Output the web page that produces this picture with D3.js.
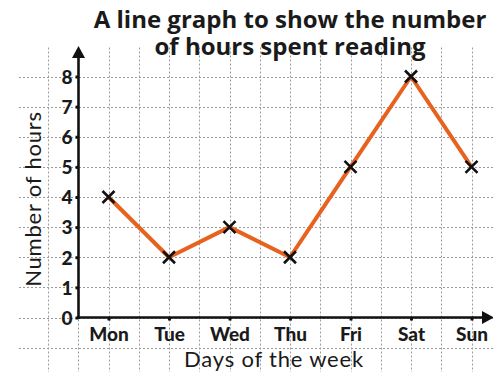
<!DOCTYPE html>
<html>
<head>
<meta charset="utf-8">
<script src="https://cdn.jsdelivr.net/npm/d3@7"></script>
<style>
  html, body { margin: 0; padding: 0; background: #fff; }
  svg { display: block; }
</style>
</head>
<body>
<svg id="chart" width="493" height="372"></svg>
<script>
// Hours spent reading on each day of the week
const days = ["Mon", "Tue", "Wed", "Thu", "Fri", "Sat", "Sun"];
const hours = [4, 2, 3, 2, 5, 8, 5];
const yTicks = [0, 1, 2, 3, 4, 5, 6, 7, 8];
const titleLines = ["A line graph to show the number", "of hours spent reading"];
const xTitle = "Days of the week";
const yTitle = "Number of hours";

const W = 493, H = 372;
const titleFont = "'Open Sans', 'DejaVu Sans', sans-serif";
const axisFont = "Lato, 'Open Sans', sans-serif";
const svg = d3.select("#chart").style("font-family", axisFont);

const x = d3.scalePoint().domain(days).range([108.5, 471.5]);
const y = d3.scaleLinear().domain([0, 8]).range([317.5, 76.5]);
const step = x.step();
const originX = 78.5, originY = y(0);

// Dotted square grid: every half day across, every hour up
const grid = svg.append("g")
  .attr("stroke", "#9a9a9a")
  .attr("stroke-width", 1)
  .attr("stroke-dasharray", "2,2");

const half = step / 2;
const gridXs = d3.range(-2, 16).map(i => x(days[0]) + i * half).filter(v => v > 20 && v < W);
grid.selectAll("line.v").data(gridXs).join("line")
  .attr("class", "v")
  .attr("x1", d => Math.round(d) + 0.5).attr("x2", d => Math.round(d) + 0.5)
  .attr("y1", y(8) - 29).attr("y2", H);

const gridYs = d3.range(-1, 9);
grid.selectAll("line.h").data(gridYs).join("line")
  .attr("class", "h")
  .attr("y1", d => Math.round(y(d)) + 0.5).attr("y2", d => Math.round(y(d)) + 0.5)
  .attr("x1", 19).attr("x2", W);

// Axes with short outer ticks
const yAxis = d3.axisLeft(y).tickValues(yTicks).tickSize(3).tickPadding(3).tickSizeOuter(0);
const xAxis = d3.axisBottom(x).tickSize(3).tickPadding(7).tickSizeOuter(0);

const gy = svg.append("g").attr("transform", `translate(${originX},0)`).call(yAxis);
const gx = svg.append("g").attr("transform", `translate(0,${originY})`).call(xAxis);

[gy, gx].forEach(g => {
  g.select(".domain").remove();
  g.selectAll(".tick line").attr("stroke", "#111").attr("stroke-width", 3);
  g.selectAll(".tick text")
    .attr("fill", "#1a1a1a")
    .style("font-family", axisFont)
    .style("font-weight", "900")
    .style("font-size", "19px");
});
gy.selectAll(".tick text").attr("dy", "0.36em");

// Axis lines with arrowheads
const axisG = svg.append("g").attr("fill", "#111").attr("stroke", "#111");
axisG.append("line")
  .attr("x1", originX).attr("x2", originX)
  .attr("y1", originY + 1.5).attr("y2", 56)
  .attr("stroke-width", 2.6);
axisG.append("path")
  .attr("stroke", "none")
  .attr("d", `M${originX},46 L${originX - 6.5},58 L${originX + 6.5},58 Z`);
axisG.append("line")
  .attr("x1", originX - 1.3).attr("x2", 484)
  .attr("y1", originY).attr("y2", originY)
  .attr("stroke-width", 2.6);
axisG.append("path")
  .attr("stroke", "none")
  .attr("d", `M${W + 1},${originY} L${482},${originY - 6.5} L${482},${originY + 6.5} Z`);

// Orange line joining the daily values
const line = d3.line().x((d, i) => x(days[i])).y(d => y(d));
svg.append("path")
  .datum(hours)
  .attr("fill", "none")
  .attr("stroke", "#e8621f")
  .attr("stroke-width", 4)
  .attr("stroke-linejoin", "round")
  .attr("d", line);

// Cross markers
const s = 6;
svg.append("g").selectAll("path.mark").data(hours).join("path")
  .attr("class", "mark")
  .attr("stroke", "#111")
  .attr("stroke-width", 2.6)
  .attr("fill", "none")
  .attr("d", (d, i) => {
    const cx = x(days[i]), cy = y(d);
    return `M${cx - s},${cy - s}L${cx + s},${cy + s}M${cx - s},${cy + s}L${cx + s},${cy - s}`;
  });

// Two-line title in a single text block
const title = svg.append("text")
  .attr("text-anchor", "middle")
  .attr("fill", "#1a1a1a")
  .style("font-family", titleFont)
  .style("font-size", "24px")
  .style("font-weight", "700");
title.selectAll("tspan").data(titleLines).join("tspan")
  .attr("x", 290)
  .attr("y", (d, i) => 28 + i * 27)
  .text(d => d);

// Axis titles
svg.append("text")
  .attr("x", 274).attr("y", 367)
  .attr("text-anchor", "middle")
  .attr("fill", "#1a1a1a")
  .style("font-size", "22px")
  .style("letter-spacing", "0.8px")
  .text(xTitle);

svg.append("text")
  .attr("transform", "translate(41,199) rotate(-90)")
  .attr("text-anchor", "middle")
  .attr("fill", "#1a1a1a")
  .style("font-size", "22px")
  .style("letter-spacing", "0.8px")
  .text(yTitle);
</script>
</body>
</html>
